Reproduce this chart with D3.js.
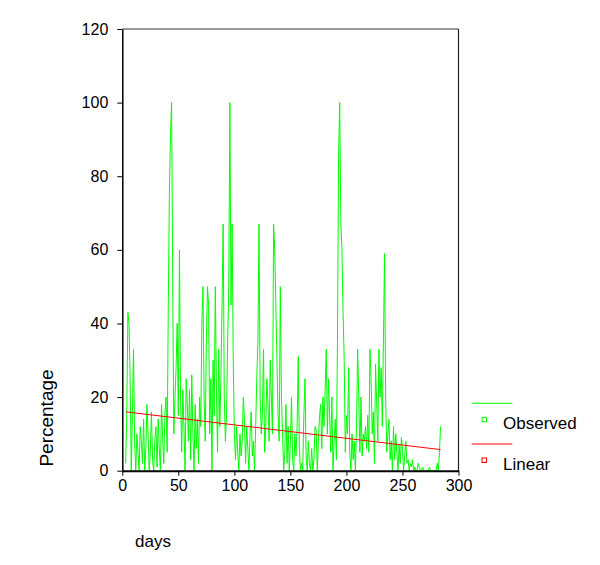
<!DOCTYPE html>
<html>
<head>
<meta charset="utf-8">
<script src="https://cdn.jsdelivr.net/npm/d3@7"></script>
<style>
  body { margin: 0; background: #fff; }
  svg { display: block; font-family: "Liberation Sans", Arial, sans-serif; }
</style>
</head>
<body>
<div class="chart"></div>
<script>
// observed percentage per day, starting at day 3
var firstDay = 3;
var observed = [
    2, 16, 43, 40, 25, 0, 15, 33, 8, 0,
    10, 5, 0, 12, 8, 2, 14, 0, 6, 18,
    10, 0, 5, 16, 3, 0, 8, 12, 1, 14,
    6, 0, 18, 9, 2, 15, 20, 5, 43, 75,
    91, 100, 50, 10, 20, 28, 40, 15, 60, 20,
    5, 22, 12, 0, 25, 18, 8, 22, 3, 26,
    10, 0, 18, 6, 14, 2, 20, 12, 40, 50,
    20, 8, 35, 50, 45, 10, 25, 0, 30, 15,
    50, 22, 5, 33, 12, 25, 45, 67, 20, 8,
    15, 35, 50, 100, 45, 67, 30, 10, 3, 12,
    5, 0, 10, 4, 8, 20, 14, 2, 12, 6,
    0, 10, 16, 4, 8, 0, 12, 25, 35, 67,
    20, 10, 15, 33, 5, 12, 25, 18, 8, 30,
    20, 10, 67, 60, 45, 30, 15, 8, 50, 20,
    10, 0, 5, 18, 2, 12, 0, 8, 20, 3,
    0, 10, 4, 12, 31, 6, 0, 2, 0, 15,
    25, 4, 0, 8, 2, 0, 6, 0, 3, 12,
    11, 0, 8, 15, 18, 6, 20, 12, 22, 33,
    10, 25, 15, 5, 20, 0, 8, 14, 3, 35,
    86, 100, 67, 60, 43, 30, 5, 15, 10, 28,
    5, 0, 10, 3, 8, 0, 12, 33, 20, 5,
    20, 4, 10, 8, 12, 6, 15, 5, 33, 25,
    10, 16, 2, 29, 18, 8, 33, 20, 28, 12,
    35, 59, 20, 5, 10, 14, 3, 8, 0, 12,
    3, 10, 5, 0, 7, 2, 9, 6, 0, 4,
    8, 2, 3, 0, 2, 1, 3, 0, 1, 0,
    0, 2, 1, 0, 0, 1, 0, 0, 0, 0,
    0, 1, 0, 0, 0, 0, 0, 0, 2, 0, 5, 12
];
// linear fit: intercept, slope per day
var linearFit = [16.1, -0.0365];
var xTicks = [0, 50, 100, 150, 200, 250, 300];
var yTicks = [0, 20, 40, 60, 80, 100, 120];
var legendItems = ["Observed", "Linear"];
var legendColors = ["#00ff00", "#ff0000"];

var plotLeft = 122.3, plotRight = 458.5, plotTop = 29, plotBottom = 470.7;

var svg = d3.select(".chart").append("svg").attr("width", 600).attr("height", 565);

var x = d3.scaleLinear().domain([0, 300]).range([plotLeft, plotRight]);
var y = d3.scaleLinear().domain([0, 120]).range([plotBottom, plotTop]);

// frame top and right
svg.append("line").attr("x1", plotLeft).attr("x2", plotRight).attr("y1", plotTop).attr("y2", plotTop).attr("stroke", "#333").attr("stroke-width", 1);
svg.append("line").attr("x1", plotRight).attr("x2", plotRight).attr("y1", plotTop).attr("y2", plotBottom).attr("stroke", "#222").attr("stroke-width", 1.2);

var points = observed.map(function(v, i) { return [firstDay + i, v]; });
var line = d3.line().x(function(d) { return x(d[0]); }).y(function(d) { return y(d[1]); });

svg.append("path").datum(points).attr("d", line).attr("fill", "none").attr("stroke", "#00ff00").attr("stroke-width", 1);

var lastDay = firstDay + observed.length - 1;
var fitPoints = [firstDay, lastDay].map(function(d) { return [d, linearFit[0] + linearFit[1] * d]; });
svg.append("path").datum(fitPoints).attr("d", line).attr("fill", "none").attr("stroke", "#ff0000").attr("stroke-width", 1);

var yAxis = svg.append("g").attr("transform", "translate(" + plotLeft + ",0)")
    .call(d3.axisLeft(y).tickValues(yTicks).tickSize(5).tickSizeOuter(0).tickPadding(9));
var xAxis = svg.append("g").attr("transform", "translate(0," + plotBottom + ")")
    .call(d3.axisBottom(x).tickValues(xTicks).tickSize(5).tickSizeOuter(0).tickPadding(4));
yAxis.select(".domain").attr("stroke", "#000").attr("stroke-width", 1.5);
xAxis.select(".domain").attr("stroke", "#000").attr("stroke-width", 2);
svg.selectAll(".tick line").attr("stroke", "#000");
svg.selectAll(".tick text").attr("font-size", 16).attr("font-family", "Liberation Sans, Arial, sans-serif").attr("fill", "#000");

svg.append("text").attr("transform", "translate(53,418) rotate(-90)").attr("text-anchor", "middle")
    .attr("font-size", 19).text("Percentage");
svg.append("text").attr("x", 135).attr("y", 547).attr("font-size", 17).text("days");

// legend
for (var i = 0; i < legendItems.length; i++) {
    var ly = 403.3 + i * 40.7;
    svg.append("line").attr("x1", 471.7).attr("x2", 512.3).attr("y1", ly).attr("y2", ly).attr("stroke", legendColors[i]).attr("stroke-width", 1);
    svg.append("rect").attr("x", 482).attr("y", ly + 14).attr("width", 4.5).attr("height", 4.5).attr("fill", "none").attr("stroke", legendColors[i]).attr("stroke-width", 1);
    svg.append("text").attr("x", 503).attr("y", ly + 26).attr("font-size", 17).text(legendItems[i]);
}
</script>
</body>
</html>
